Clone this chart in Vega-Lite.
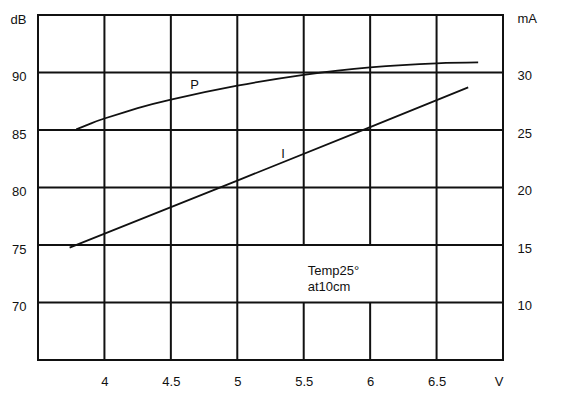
{
  "$schema": "https://vega.github.io/schema/vega-lite/v6.json",
  "width": 465,
  "height": 345,
  "autosize": "none",
  "padding": {"left": 38, "top": 15, "right": 66, "bottom": 38},
  "config": {
    "view": {"stroke": "#111", "strokeWidth": 2},
    "axis": {"domain": false, "ticks": false, "grid": false, "labelFont": "Liberation Sans", "labelFontSize": 13, "labelColor": "#111"},
    "text": {"font": "Liberation Sans", "fontSize": 13, "color": "#111"}
  },
  "datasets": {
    "grid": [
      {"x": 4, "x2": 4, "y": 65, "y2": 95},
      {"x": 4.5, "x2": 4.5, "y": 65, "y2": 95},
      {"x": 5, "x2": 5, "y": 65, "y2": 95},
      {"x": 5.5, "x2": 5.5, "y": 65, "y2": 70},
      {"x": 5.5, "x2": 5.5, "y": 75, "y2": 95},
      {"x": 6, "x2": 6, "y": 65, "y2": 70},
      {"x": 6, "x2": 6, "y": 75, "y2": 95},
      {"x": 6.5, "x2": 6.5, "y": 65, "y2": 95},
      {"x": 3.5, "x2": 7, "y": 70, "y2": 70},
      {"x": 3.5, "x2": 7, "y": 75, "y2": 75},
      {"x": 3.5, "x2": 7, "y": 80, "y2": 80},
      {"x": 3.5, "x2": 7, "y": 85, "y2": 85},
      {"x": 3.5, "x2": 7, "y": 90, "y2": 90}
    ],
    "P": [
      {"v": 3.788, "dB": 85.05},
      {"v": 3.9, "dB": 85.58},
      {"v": 4.0, "dB": 86.0},
      {"v": 4.25, "dB": 86.9},
      {"v": 4.5, "dB": 87.65},
      {"v": 5.0, "dB": 88.85},
      {"v": 5.5, "dB": 89.8},
      {"v": 6.0, "dB": 90.45},
      {"v": 6.5, "dB": 90.8},
      {"v": 6.813, "dB": 90.88}
    ],
    "I": [
      {"v": 3.738, "mA": 14.77},
      {"v": 5.0, "mA": 20.6},
      {"v": 6.0, "mA": 25.25},
      {"v": 6.738, "mA": 28.7}
    ],
    "curveLabels": [
      {"v": 4.679, "dB": 88.55, "label": "P"},
      {"v": 5.345, "dB": 82.55, "label": "I"}
    ],
    "note": [
      {"v": 5.53, "dB": 72.43, "label": "Temp25°"},
      {"v": 5.53, "dB": 70.96, "label": "at10cm"}
    ]
  },
  "layer": [
    {
      "layer": [
        {
          "data": {"name": "grid"},
          "mark": {"type": "rule", "color": "#111", "strokeWidth": 2},
          "encoding": {
            "x": {"field": "x", "type": "quantitative", "scale": {"domain": [3.5, 7], "nice": false, "zero": false},
              "axis": {"values": [4, 4.5, 5, 5.5, 6, 6.5, 7], "format": "~g", "labelExpr": "datum.value == 7 ? 'V' : datum.label", "labelPadding": 15, "title": null}},
            "x2": {"field": "x2"},
            "y": {"field": "y", "type": "quantitative", "scale": {"domain": [65, 95], "nice": false, "zero": false},
              "axis": {"orient": "left", "values": [70, 75, 80, 85, 90, 95], "labelExpr": "datum.value == 95 ? 'dB' : datum.label", "labelPadding": 12, "labelOffset": 4, "title": null}},
            "y2": {"field": "y2"}
          }
        },
        {
          "data": {"name": "P"},
          "mark": {"type": "line", "color": "#111", "strokeWidth": 1.8, "interpolate": "natural"},
          "encoding": {
            "x": {"field": "v", "type": "quantitative"},
            "y": {"field": "dB", "type": "quantitative"}
          }
        },
        {
          "data": {"name": "curveLabels"},
          "mark": {"type": "text", "align": "center", "baseline": "alphabetic"},
          "encoding": {
            "x": {"field": "v", "type": "quantitative"},
            "y": {"field": "dB", "type": "quantitative"},
            "text": {"field": "label"}
          }
        },
        {
          "data": {"name": "note"},
          "mark": {"type": "text", "align": "left", "baseline": "alphabetic"},
          "encoding": {
            "x": {"field": "v", "type": "quantitative"},
            "y": {"field": "dB", "type": "quantitative"},
            "text": {"field": "label"}
          }
        }
      ]
    },
    {
      "data": {"name": "I"},
      "mark": {"type": "line", "color": "#111", "strokeWidth": 1.8},
      "encoding": {
        "x": {"field": "v", "type": "quantitative"},
        "y": {"field": "mA", "type": "quantitative", "scale": {"domain": [5, 35], "nice": false, "zero": false},
          "axis": {"orient": "right", "values": [10, 15, 20, 25, 30, 35], "labelExpr": "datum.value == 35 ? 'mA' : datum.label", "labelPadding": 14, "labelOffset": 3, "title": null}}
      }
    }
  ],
  "resolve": {"scale": {"y": "independent"}}
}
